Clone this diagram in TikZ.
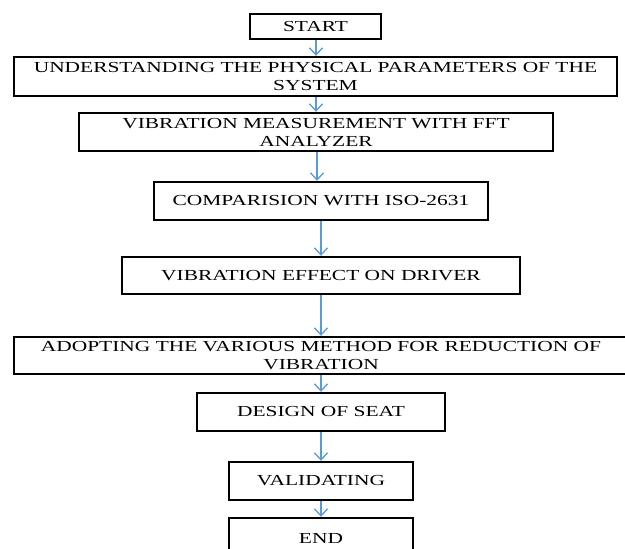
\documentclass[tikz,border=0pt]{standalone}
\usepackage{fontspec}
\setmainfont[FakeStretch=1.4]{Liberation Serif}
\usetikzlibrary{arrows.meta}
\definecolor{arrowblue}{HTML}{5B9BD5}
\begin{document}
\begin{tikzpicture}[x=1pt,y=-1pt,
  box/.style={draw=black, line width=2.4pt, inner sep=0pt, align=center,
    font=\fontsize{15.3}{16}\selectfont, fill=white},
  arr/.style={draw=arrowblue, line width=1.3pt, -{Straight Barb[length=7pt,width=13pt]}}]
\clip (0,0) rectangle (625,549);
\fill[white] (0,0) rectangle (625,549);
\coordinate (cA) at (316,0);
\coordinate (cB) at (317,0);
\coordinate (cC) at (321,0);
\node[box, minimum width=131pt, minimum height=25pt] (start) at (315.5,26.5) {START};
\node[box, minimum width=603pt, minimum height=39pt] (und) at (315.5,76.5) {UNDERSTANDING THE PHYSICAL PARAMETERS OF THE\\[2pt]SYSTEM};
\node[box, minimum width=474pt, minimum height=38pt] (vib) at (316,132) {VIBRATION MEASUREMENT WITH FFT\\[2pt]ANALYZER};
\node[box, minimum width=334pt, minimum height=38pt] (comp) at (321,201) {COMPARISION WITH ISO-2631};
\node[box, minimum width=398pt, minimum height=37pt] (eff) at (321,275.5) {VIBRATION EFFECT ON DRIVER};
\node[box, minimum width=614pt, minimum height=37pt] (adopt) at (321,355.5) {ADOPTING THE VARIOUS METHOD FOR REDUCTION OF\\[2pt]VIBRATION};
\node[box, minimum width=248pt, minimum height=38pt] (design) at (321,412) {DESIGN OF SEAT};
\node[box, minimum width=184pt, minimum height=38pt] (valid) at (321,481) {VALIDATING};
\node[box, minimum width=184pt, minimum height=42pt] (end) at (321,539) {END};
\draw[arr] (start.south -| cA) -- (und.north -| cA);
\draw[arr] (und.south -| cA) -- (vib.north -| cA);
\draw[arr] (vib.south -| cB) -- (comp.north -| cB);
\draw[arr] (comp.south -| cC) -- (eff.north -| cC);
\draw[arr] (eff.south -| cC) -- (adopt.north -| cC);
\draw[arr] (adopt.south -| cC) -- (design.north -| cC);
\draw[arr] (design.south -| cC) -- (valid.north -| cC);
\draw[arr] (valid.south -| cC) -- (end.north -| cC);
\end{tikzpicture}
\end{document}
